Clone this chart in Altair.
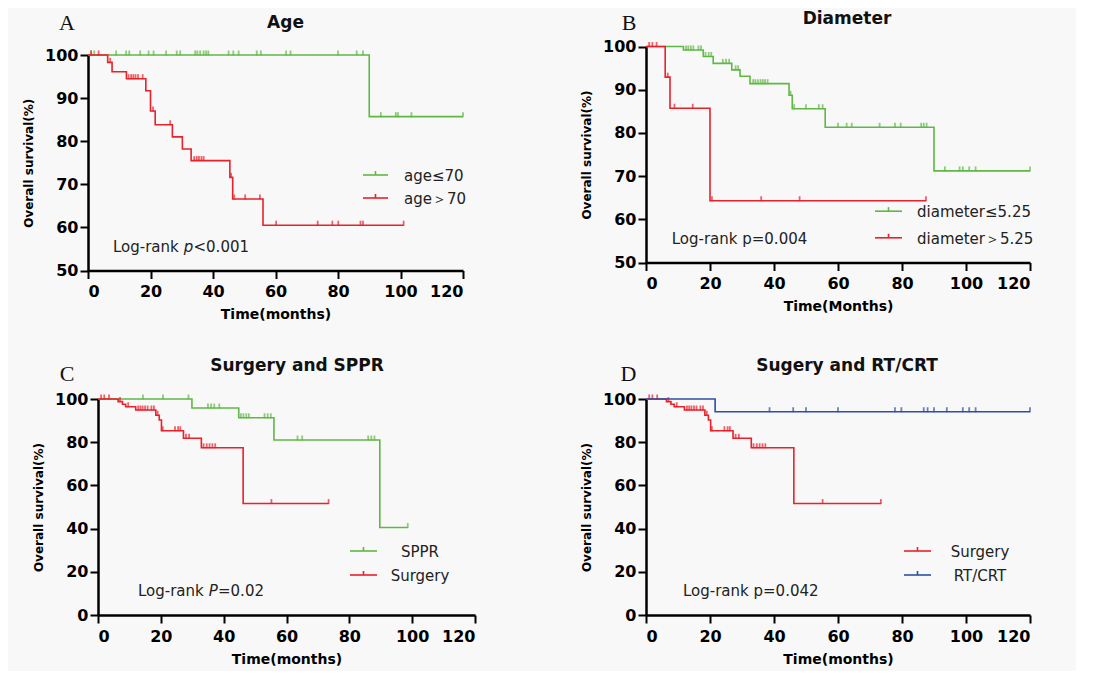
import altair as alt
import pandas as pd

# ---------------- data ----------------
# Panel A: Age
A_le70_t = [0, 90.0, 120]
A_le70_s = [100, 85.7, 85.7]
A_le70_c = [1, 2, 9, 12.2, 13.2, 16.7, 19.4, 21, 25, 28.4, 29.5, 34.3, 35, 35.9, 37, 37.8, 38.5,
            45, 46.5, 48.2, 54, 55.3, 63.4, 64.8, 80, 86, 88, 93.7, 98.5, 99.2, 103.5, 120]
A_gt70_t = [0, 6.3, 7.7, 12.3, 18.5, 20.0, 21.5, 27.0, 30.2, 33.0, 45.4, 46.3, 56.0, 101]
A_gt70_s = [100, 98.3, 96.1, 94.5, 91.7, 87.0, 83.8, 81.0, 78.2, 75.5, 71.6, 66.6, 60.5, 60.5]
A_gt70_c = [1, 3.4, 7.1, 13, 13.8, 14.5, 15.2, 16, 17.5, 20.8, 26.3, 34, 34.8, 35.5, 36.3, 37,
            45.8, 46.8, 50.3, 55, 60.2, 73.5, 78.2, 80.1, 87.2, 88, 101]

# Panel B: Diameter
B_le_t = [0, 11.7, 17.9, 21.0, 26.8, 29.4, 32.5, 44.7, 45.7, 56.0, 90.0, 120]
B_le_s = [100, 99.2, 97.7, 96.1, 94.6, 93.1, 91.4, 88.7, 85.6, 81.3, 71.2, 71.2]
B_le_c = [12.5, 13.2, 14, 14.8, 16.4, 17.2, 18.6, 19.6, 20.4, 24, 25, 26, 28, 28.8, 33.5, 34.2, 35,
          35.8, 36.5, 37.2, 38, 45.2, 46.3, 50, 54, 55.2, 60, 62.7, 64.3, 73, 77.8, 79.6, 86, 86.8,
          87.7, 93.4, 98, 99, 101, 103, 120]
B_gt_t = [0, 6.0, 7.5, 20.0, 87.5]
B_gt_s = [100, 92.9, 85.7, 64.3, 64.3]
B_gt_c = [1, 2, 3.3, 6.8, 8.9, 14.6, 20.6, 36, 48, 87.5]

# Panel C: Surgery and SPPR
C_sppr_t = [0, 29.9, 44.8, 56.0, 89.7, 98.6]
C_sppr_s = [100, 95.8, 91.3, 81.0, 40.5, 40.5]
C_sppr_c = [14.3, 20.7, 28.8, 35, 36, 37, 38.6, 45.5, 46.3, 47.2, 48, 53, 54, 55, 63.5, 65, 86,
            87, 88, 98.6]
Surg_t = [0, 6.4, 7.8, 8.8, 12.0, 18.4, 19.5, 20.2, 27.2, 32.9, 46.2, 73.4]
Surg_s = [100, 98.8, 97.6, 96.4, 94.9, 92.5, 90.3, 85.3, 81.8, 77.4, 51.6, 51.6]
Surg_c = [1, 2, 3.5, 7.0, 9.6, 12.8, 13.5, 14.2, 15, 15.8, 17, 17.8, 19, 20.6, 24.5, 25.5, 26.2,
          28, 29, 33.6, 34.6, 35.5, 36.4, 37.3, 55.2, 73.4]

# Panel D: Sugery and RT/CRT
D_rt_t = [0, 21.6, 120]
D_rt_s = [100, 94.1, 94.1]
D_rt_c = [38.6, 46, 50, 60, 77.8, 79.8, 86.8, 88, 90, 94, 99, 101, 103, 120]

x_ticks = [0, 20, 40, 60, 80, 100, 120]
y_ticks_ab = [50, 60, 70, 80, 90, 100]
y_ticks_cd = [0, 20, 40, 60, 80, 100]

GREEN = "#5fb844"
RED = "#e8212b"
BLUE = "#2d4fa6"
FONT = "DejaVu Sans"

dummy = pd.DataFrame({"k": [0]})


def km(times, surv, censors):
    line = pd.DataFrame({"t": times, "s": surv})

    def s_at(c):
        v = surv[0]
        for tt, ss in zip(times, surv):
            if tt <= c:
                v = ss
        return v

    cens = pd.DataFrame({"t": censors, "s": [s_at(c) for c in censors]})
    return line, cens


def txt(text, x, y, size=15, weight="normal", style="normal", align="left",
        baseline="alphabetic", font=FONT, color="#1a1a1a"):
    return alt.Chart(dummy).mark_text(
        text=text, fontSize=size, fontWeight=weight, fontStyle=style, align=align,
        baseline=baseline, font=font, color=color
    ).encode(x=alt.value(x), y=alt.value(y))


def panel(w, h, ox, oy, ydom, yticks, xtitle, curves, frame, title, title_x, title_y,
          letter, letter_x, letter_y, lr_parts, legend_rows, sym_x, lab_x, lab_align):
    # plot area spans x: ox..ox+w, y: oy..oy+h inside the cell group
    gw, gh = ox + w, oy + h
    xs = alt.Scale(domain=[0, 120], nice=False, zero=False, range=[ox, ox + w])
    ys = alt.Scale(domain=ydom, nice=False, zero=False, range=[oy + h, oy])
    xax = alt.Axis(values=x_ticks, title=xtitle, titleFontSize=14, labelPadding=5,
                   titlePadding=8, format="d")
    yax = alt.Axis(values=yticks, title="Overall survival(%)", titleFontSize=12,
                   labelPadding=2, titlePadding=9, format="d", offset=-ox)
    layers = []
    L, R, T, B = frame
    layers.append(alt.Chart(dummy).mark_rule(opacity=0).encode(
        x=alt.value(L), x2=alt.value(R), y=alt.value(T), y2=alt.value(B)))
    for line, cens, color in curves:
        layers.append(alt.Chart(line).mark_line(
            interpolate="step-after", color=color, strokeWidth=1.6).encode(
            x=alt.X("t:Q", scale=xs, axis=xax),
            y=alt.Y("s:Q", scale=ys, axis=yax)))
        layers.append(alt.Chart(cens).mark_tick(
            orient="vertical", size=5, thickness=1.8, yOffset=-2, color=color).encode(
            x=alt.X("t:Q", scale=xs, axis=xax),
            y=alt.Y("s:Q", scale=ys, axis=yax)))
    # title and panel letter (positions relative to plot top-left)
    layers.append(txt(title, ox + title_x, oy + title_y, size=17, weight="bold",
                      align="center", color="#111111"))
    layers.append(txt(letter, ox + letter_x, oy + letter_y, size=22, align="center",
                      font="Liberation Serif", color="#111111"))
    # log-rank annotation
    for text, x, y, style in lr_parts:
        layers.append(txt(text, ox + x, oy + y, size=15, style=style, color="#222222"))
    # legend
    for (label, color), ry in legend_rows:
        ry = oy + ry
        layers.append(alt.Chart(dummy).mark_rule(color=color, strokeWidth=1.6).encode(
            x=alt.value(ox + sym_x[0]), x2=alt.value(ox + sym_x[1]), y=alt.value(ry)))
        mid = ox + (sym_x[0] + sym_x[1]) / 2
        layers.append(alt.Chart(dummy).mark_rule(color=color, strokeWidth=1.6).encode(
            x=alt.value(mid), y=alt.value(ry - 4), y2=alt.value(ry)))
        layers.append(txt(label, ox + lab_x, ry + 1, size=15, align=lab_align,
                          baseline="middle", color="#222222"))
    return alt.layer(*layers).properties(width=gw, height=gh)


a1, a1c = km(A_le70_t, A_le70_s, A_le70_c)
a2, a2c = km(A_gt70_t, A_gt70_s, A_gt70_c)
b1, b1c = km(B_le_t, B_le_s, B_le_c)
b2, b2c = km(B_gt_t, B_gt_s, B_gt_c)
c1, c1c = km(C_sppr_t, C_sppr_s, C_sppr_c)
s1, s1c = km(Surg_t, Surg_s, Surg_c)
d1, d1c = km(D_rt_t, D_rt_s, D_rt_c)

pA = panel(375, 215.5, 0, 0, [50, 100], y_ticks_ab, "Time(months)",
           [(a1, a1c, GREEN), (a2, a2c, RED)],
           (-80, 467, -47, 283.5), "Age", 197.5, -27.5, "A", -21, -25.5,
           [("Log-rank", 25, 197, "normal"), ("p", 95.8, 197, "italic"),
            ("<0.001", 105.5, 197, "normal")],
           [(("age≤70", GREEN), 120), (("age＞70", RED), 143)],
           (275, 300), 316, "left")

pB = panel(384, 216, 0, -8.5, [50, 100], y_ticks_ab, "Time(Months)",
           [(b1, b1c, GREEN), (b2, b2c, RED)],
           (-91, 430, -47, 283.5), "Diameter", 201, -22.5, "B", -17, -17,
           [("Log-rank p=0.004", 25.7, 197, "normal")],
           [(("diameter≤5.25", GREEN), 164.7), (("diameter＞5.25", RED), 191.3)],
           (229, 256), 271, "left")

pC = panel(377, 216, 10, 0, [0, 100], y_ticks_cd, "Time(months)",
           [(c1, c1c, GREEN), (s1, s1c, RED)],
           (-80, 467, -60, 272), "Surgery and SPPR", 199, -28, "C", -31, -18,
           [("Log-rank", 40, 197, "normal"), ("P", 110.8, 197, "italic"),
            ("=0.02", 120, 197, "normal")],
           [(("SPPR", GREEN), 152), (("Surgery", RED), 176)],
           (252, 279), 322, "center")

pD = panel(384, 216, 0, 0, [0, 100], y_ticks_cd, "Time(months)",
           [(s1, s1c, RED), (d1, d1c, BLUE)],
           (-91, 430, -60, 272), "Sugery and RT/CRT", 201, -28, "D", -17.5, -18,
           [("Log-rank p=0.042", 37, 197, "normal")],
           [(("Surgery", RED), 152), (("RT/CRT", BLUE), 176)],
           (258, 285), 334, "center")

chart = alt.concat(
    pA, pB, pC, pD, columns=2, spacing=0, align="each", bounds="full"
).properties(
    padding=0, background="#f8f8f8"
).configure_view(
    stroke=None
).configure_axis(
    grid=False, domainColor="#000000", domainWidth=2.5, tickColor="#000000",
    tickWidth=2, tickSize=8, labelFont=FONT, labelFontSize=16, labelFontWeight="bold",
    labelColor="#000000", titleFont=FONT, titleFontWeight="bold", titleColor="#000000"
)

chart.save("out.html", embed_options={"renderer": "svg", "actions": False})
